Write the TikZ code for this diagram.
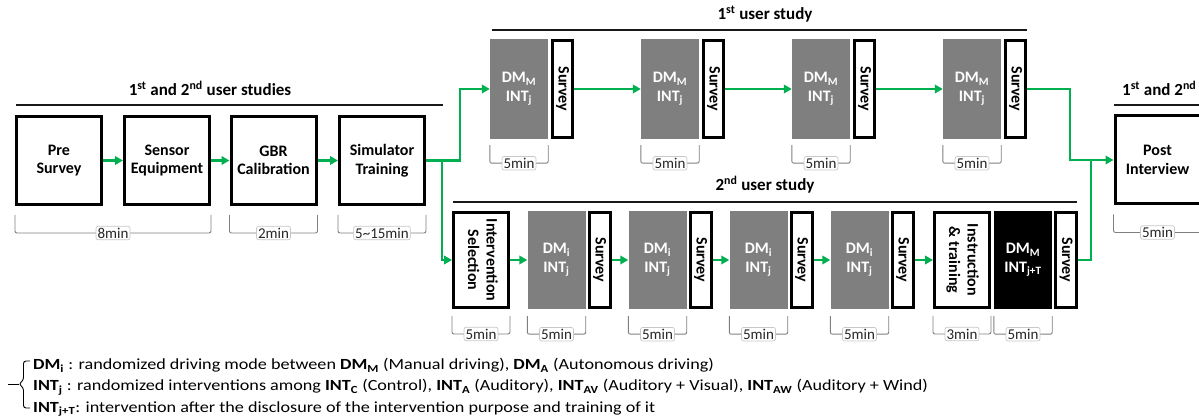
\documentclass[tikz,border=0pt]{standalone}
\usepackage{fontspec}
\usepackage{graphicx}
\setmainfont{Carlito}
\usetikzlibrary{arrows.meta,calc}

\definecolor{flowgreen}{HTML}{00B050}
\definecolor{dmgray}{HTML}{7F7F7F}
\definecolor{brkgray}{HTML}{7F7F7F}
\definecolor{lblgray}{HTML}{C8C8C8}
\definecolor{lbltext}{HTML}{262626}

\newcommand\boxfont{\fontsize{16}{18.5}\selectfont\bfseries}
\newcommand\titlefont{\fontsize{17}{20}\selectfont\bfseries}
\newcommand\legfont{\fontsize{15.5}{18}\selectfont}
\newcommand\lblfont{\fontsize{15}{16}\selectfont}
% legend lines are set a little wider than the font's natural width
\newcommand\legline[1]{\scalebox{1.17}[1]{#1}}

% time bracket below a run of boxes: first node, last node, label, gap
\newcommand\spanbrk[4]{%
  \draw[brk] ([yshift=-#4]#1.south west) -- ++(0,18) -| ([yshift=-#4]#2.south east)
    node[lbl,pos=0.25] {#3};}

\tikzset{
  stepbox/.style={draw=black, line width=3pt, fill=white, inner sep=0pt,
    minimum width=85pt, minimum height=88pt, align=center, font=\boxfont},
  tallbox/.style={draw=black, line width=3pt, fill=white, inner sep=0pt,
    minimum width=55pt, minimum height=95pt, align=center, font=\boxfont},
  dmbox/.style={fill=dmgray, inner sep=0pt, minimum width=58pt,
    minimum height=100pt, align=center, text=white, font=\boxfont},
  dmboxlow/.style={dmbox, minimum height=98pt},
  svbox/.style={draw=black, line width=3pt, fill=white, inner sep=0pt,
    minimum width=20pt, minimum height=97pt, font=\boxfont},
  svboxlow/.style={svbox, minimum width=21pt, minimum height=95pt},
  flow/.style={draw=flowgreen, line width=2.5pt,
    -{Triangle[length=8pt,width=8.5pt]}},
  flowline/.style={draw=flowgreen, line width=2.5pt},
  rulebar/.style={draw=black!90, line width=1.6pt},
  brk/.style={draw=brkgray, line width=0.9pt, rounded corners=2pt},
  lbl/.style={draw=lblgray, line width=0.7pt, fill=white, inner xsep=1.5pt,
    inner ysep=1.5pt, text=lbltext, font=\lblfont},
  titletext/.style={font=\titlefont, inner sep=0pt, anchor=base},
  legtext/.style={font=\legfont, inner sep=0pt, anchor=base west},
}

\begin{document}
\begin{tikzpicture}[x=1pt,y=-1pt]
\useasboundingbox (0,0) rectangle (1199,419);
\clip (0,0) rectangle (1199,419);

% ---- shared opening steps ----
\node[titletext] (tA) at (210,96) {1\textsuperscript{st} and 2\textsuperscript{nd} user studies};
\draw[rulebar] (16,105) -- (443,105);

\node[stepbox] (pre)    at (59,160.5)    {Pre\\Survey};
\node[stepbox] (sensor) at (167,160.5)   {Sensor\\Equipment};
\node[stepbox] (gbr)    at (273.5,160.5) {GBR\\Calibration};
\node[stepbox] (sim)    at (382,160.5)   {Simulator\\Training};

\draw[flow] (pre) -- (sensor);
\draw[flow] (sensor) -- (gbr);
\draw[flow] (gbr) -- (sim);

\spanbrk{pre}{sensor}{8min}{9pt}
\spanbrk{gbr}{gbr}{2min}{9pt}
\spanbrk{sim}{sim}{5\char"7E 15min}{9pt}

% ---- first user study ----
\node[titletext] (tB) at (765,20) {1\textsuperscript{st} user study};
\draw[rulebar] (492,30) -- (1027,30);

\foreach \k/\dx in {1/0,2/151,3/302,4/453}{
  \node[dmbox] (dm\k) at (519+\dx,89) {DM\textsubscript{M}\\INT\textsubscript{j}};
  \node[svbox] (sv\k) at (562.5+\dx,89) {\rotatebox{-90}{Survey}};
  \spanbrk{dm\k}{dm\k}{5min}{6pt}
}
\draw[flow] (sv1) -- (dm2);
\draw[flow] (sv2) -- (dm3);
\draw[flow] (sv3) -- (dm4);

% ---- second user study ----
\node[titletext] (tC) at (765,191) {2\textsuperscript{nd} user study};
\draw[rulebar] (453,202) -- (1077,202);

\node[tallbox] (isel) at (481,260)
  {\rotatebox{-90}{\begin{tabular}{@{}c@{}}Intervention\\Selection\end{tabular}}};
\foreach \k/\dx in {1/0,2/101,3/202,4/303}{
  \node[dmboxlow] (dmi\k) at (556.5+\dx,260) {DM\textsubscript{i}\\INT\textsubscript{j}};
  \node[svboxlow] (svi\k) at (599.5+\dx,260) {\rotatebox{-90}{Survey}};
  \spanbrk{dmi\k}{dmi\k}{5min}{7pt}
}
\node[tallbox] (instr) at (962,260)
  {\rotatebox{-90}{\begin{tabular}{@{}c@{}}Instruction\\\& training\end{tabular}}};
\node[dmboxlow, fill=black] (dmt) at (1023,260) {DM\textsubscript{M}\\INT\textsubscript{j+T}};
\node[svboxlow] (svt) at (1066,260) {\rotatebox{-90}{Survey}};

\spanbrk{isel}{isel}{5min}{7pt}
\spanbrk{instr}{instr}{3min}{7pt}
\spanbrk{dmt}{dmt}{5min}{7pt}

\draw[flow] (isel) -- (dmi1);
\draw[flow] (svi1) -- (dmi2);
\draw[flow] (svi2) -- (dmi3);
\draw[flow] (svi3) -- (dmi4);
\draw[flow] (svi4) -- (instr);

% ---- shared closing step ----
\node[titletext, anchor=base west] (tD) at (1122,96) {1\textsuperscript{st} and 2\textsuperscript{nd} user studies};
\draw[rulebar] (1114,105) -- (1260,105);
\node[stepbox] (post) at (1157.5,160) {Post\\Interview};
\spanbrk{post}{post}{5min}{9pt}

% ---- branching and merging of the flow ----
\coordinate (split) at (442,160.5);
\coordinate (rise)  at (460,160.5);
\coordinate (drop)  at (1070,89);
\coordinate (merge) at (1091,160);
\draw[flow] (sim.east) -- (rise) |- (dm1.west);
\draw[flow] (split) |- (isel.west);
\draw[flow] (sv4.east) -- (drop) |- (post.west);
\draw[flowline] (svt.east) -| (merge);

% ---- legend ----
\draw[line width=0.9pt, rounded corners=2.5pt]
  (30,361) -- (23.5,361) -- (23.5,380) -- (19,384) -- (23.5,388) -- (23.5,408) -- (30,408);
\draw[line width=0.9pt] (8,384) -- (19,384);
\node[legtext] (leg1) at (33,370) {\legline{\textbf{DM\textsubscript{i}} : randomized driving mode between \textbf{DM\textsubscript{M}} (Manual driving), \textbf{DM\textsubscript{A}} (Autonomous driving)}};
\node[legtext] (leg2) at (33,391) {\legline{\textbf{INT\textsubscript{j}} : randomized interventions among \textbf{INT\textsubscript{C}} (Control), \textbf{INT\textsubscript{A}} (Auditory), \textbf{INT\textsubscript{AV}} (Auditory + Visual), \textbf{INT\textsubscript{AW}} (Auditory + Wind)}};
\node[legtext] (leg3) at (33,412) {\legline{\textbf{INT\textsubscript{j+T}}: intervention after the disclosure of the intervention purpose and training of it}};
\end{tikzpicture}
\end{document}
